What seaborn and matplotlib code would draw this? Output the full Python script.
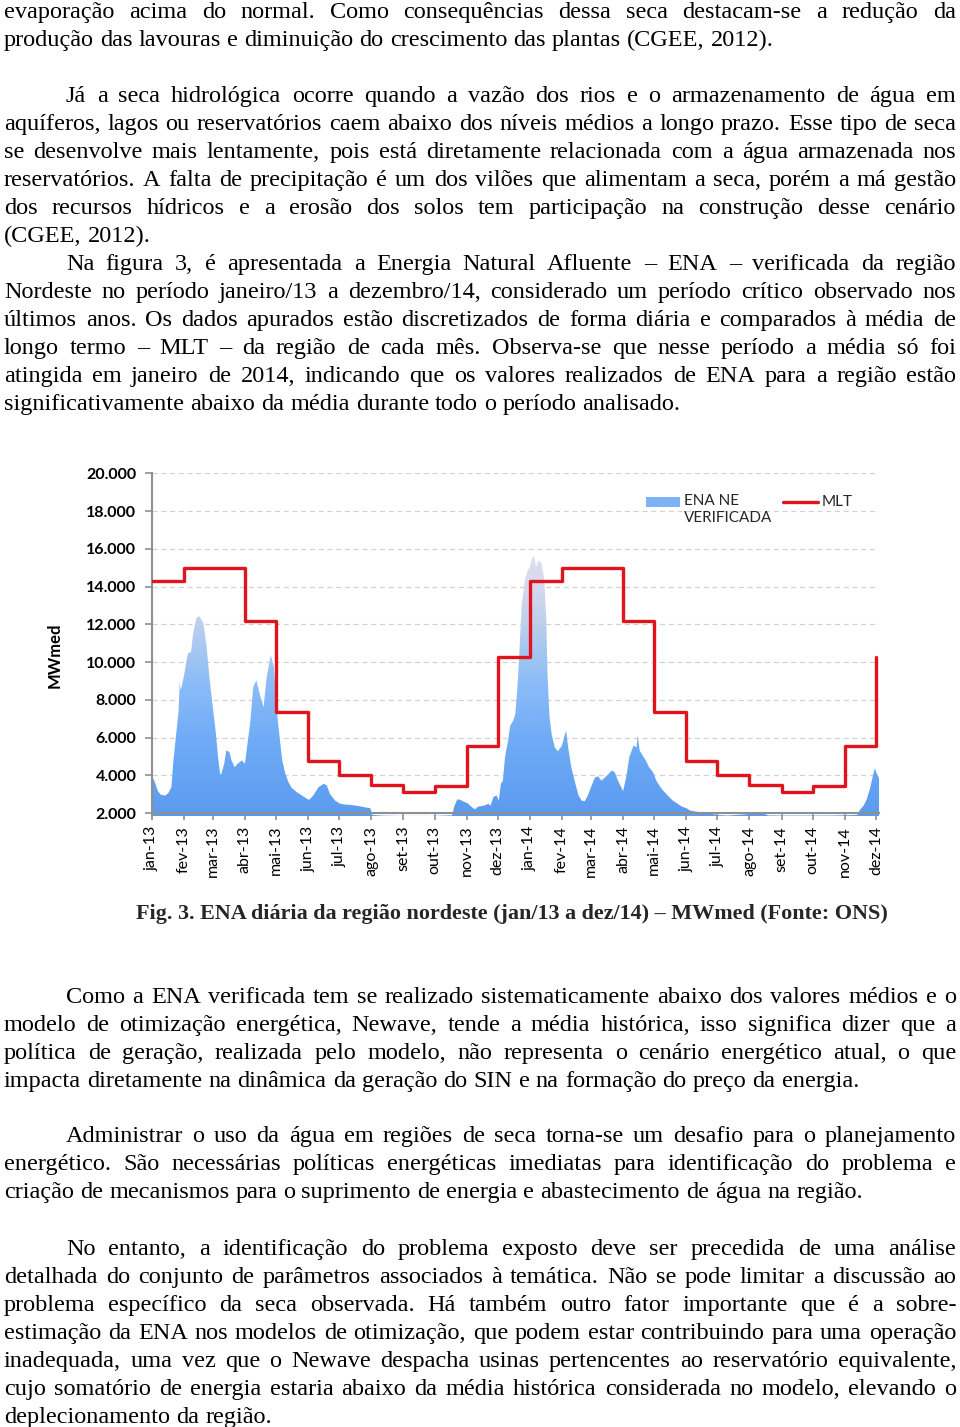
import matplotlib
matplotlib.use("Agg")
import matplotlib.pyplot as plt
from matplotlib.colors import LinearSegmentedColormap, Normalize
from matplotlib.patches import Rectangle
import matplotlib.dates as mdates
import numpy as np
import pandas as pd
import seaborn as sns

# ====== dados do gráfico ======
mlt_dates = pd.date_range("2013-01-01", "2014-12-01", freq="MS")
month_labels = ["jan-13", "fev-13", "mar-13", "abr-13", "mai-13", "jun-13",
                "jul-13", "ago-13", "set-13", "out-13", "nov-13", "dez-13",
                "jan-14", "fev-14", "mar-14", "abr-14", "mai-14", "jun-14",
                "jul-14", "ago-14", "set-14", "out-14", "nov-14", "dez-14"]
mlt_mwmed = [14300, 15000, 15000, 12160, 7380, 4780, 4000, 3500, 3100, 3430, 5580, 10250,
             14300, 15000, 15000, 12160, 7380, 4780, 4000, 3500, 3100, 3430, 5580, 10250]

ena_dates = [
    "2013-01-01", "2013-01-04", "2013-01-07", "2013-01-10", "2013-01-14", "2013-01-17",
    "2013-01-20", "2013-01-22", "2013-01-24", "2013-01-27", "2013-01-28", "2013-01-29",
    "2013-02-01", "2013-02-04", "2013-02-05", "2013-02-08", "2013-02-10", "2013-02-13",
    "2013-02-16", "2013-02-20", "2013-02-23", "2013-02-26", "2013-03-01", "2013-03-04",
    "2013-03-06", "2013-03-08", "2013-03-09", "2013-03-12", "2013-03-14", "2013-03-17",
    "2013-03-19", "2013-03-22", "2013-03-25", "2013-03-29", "2013-04-01", "2013-04-03",
    "2013-04-06", "2013-04-09", "2013-04-12", "2013-04-16", "2013-04-19", "2013-04-22",
    "2013-04-26", "2013-04-29", "2013-05-01", "2013-05-03", "2013-05-07", "2013-05-10",
    "2013-05-13", "2013-05-16", "2013-05-21", "2013-05-26", "2013-05-31", "2013-06-02",
    "2013-06-06", "2013-06-11", "2013-06-16", "2013-06-19", "2013-06-22", "2013-06-27",
    "2013-07-02", "2013-07-07", "2013-07-12", "2013-07-19", "2013-07-25", "2013-07-31",
    "2013-08-02", "2013-08-10", "2013-08-27", "2013-09-12", "2013-09-29", "2013-10-18",
    "2013-10-20", "2013-10-23", "2013-10-26", "2013-10-29", "2013-11-02", "2013-11-06",
    "2013-11-09", "2013-11-12", "2013-11-17", "2013-11-22", "2013-11-24", "2013-11-27",
    "2013-11-30", "2013-12-02", "2013-12-04", "2013-12-06", "2013-12-08", "2013-12-11",
    "2013-12-13", "2013-12-16", "2013-12-18", "2013-12-20", "2013-12-22", "2013-12-24",
    "2013-12-27", "2013-12-30", "2014-01-01", "2014-01-03", "2014-01-05", "2014-01-07",
    "2014-01-09", "2014-01-12", "2014-01-13", "2014-01-15", "2014-01-17", "2014-01-18",
    "2014-01-20", "2014-01-22", "2014-01-25", "2014-01-28", "2014-02-01", "2014-02-03",
    "2014-02-05", "2014-02-07", "2014-02-10", "2014-02-14", "2014-02-17", "2014-02-20",
    "2014-02-23", "2014-02-26", "2014-03-01", "2014-03-05", "2014-03-08", "2014-03-11",
    "2014-03-14", "2014-03-18", "2014-03-21", "2014-03-24", "2014-03-27", "2014-03-31",
    "2014-04-01", "2014-04-04", "2014-04-07", "2014-04-11", "2014-04-14", "2014-04-15",
    "2014-04-17", "2014-04-20", "2014-04-23", "2014-04-26", "2014-04-30", "2014-05-03",
    "2014-05-06", "2014-05-09", "2014-05-14", "2014-05-19", "2014-05-24", "2014-05-28",
    "2014-06-01", "2014-06-05", "2014-06-10", "2014-06-15", "2014-06-21", "2014-06-26",
    "2014-07-01", "2014-07-10", "2014-07-19", "2014-07-29", "2014-08-03", "2014-08-09",
    "2014-08-14", "2014-08-19", "2014-08-30", "2014-09-15", "2014-10-01", "2014-10-17",
    "2014-11-13", "2014-11-16", "2014-11-19", "2014-11-22", "2014-11-25", "2014-11-28",
    "2014-11-30", "2014-12-01", "2014-12-04",
]
ena_mwmed = [
    4000, 3650, 3170, 2970, 2940, 3060,
    3380, 4800, 5860, 7450, 8950, 8510,
    9220, 10200, 10460, 10550, 11520, 12320,
    12440, 12050, 10810, 9040, 7630, 6210,
    4970, 4090, 4050, 4620, 5330, 5240,
    4800, 4440, 4620, 4800, 4620, 5500,
    6740, 8690, 9040, 8160, 7630, 9220,
    10370, 9750, 7980, 6740, 4800, 4090,
    3650, 3350, 3120, 2940, 2760, 2710,
    2940, 3380, 3560, 3470, 3030, 2670,
    2500, 2460, 2440, 2390, 2320, 2270,
    1910, 1880, 1860, 1860, 1860, 1890,
    2350, 2740, 2710, 2620, 2530, 2320,
    2210, 2350, 2390, 2500, 2400, 2880,
    2940, 2670, 3550, 3730, 4970, 5850,
    6640, 6910, 7260, 8680, 10620, 12910,
    14320, 14850, 15030, 15470, 15640, 15030,
    15380, 15290, 15030, 14320, 12030, 9380,
    7080, 6200, 5490, 5280, 5580, 6020,
    6380, 5490, 4440, 3550, 2940, 2670,
    2640, 2940, 3380, 3910, 3950, 3730,
    3870, 4080, 4260, 4170, 3730, 3290,
    3170, 3910, 4970, 5580, 5490, 6120,
    5320, 5050, 4790, 4440, 4170, 3730,
    3470, 3240, 2940, 2670, 2490, 2350,
    2270, 2140, 2090, 2050, 2030, 1960,
    1910, 1880, 1910, 1950, 2000, 2070,
    2000, 1890, 1880, 1880, 1880, 1880,
    1910, 2210, 2390, 2710, 3240, 3950,
    4390, 4210, 3860,
]

y_ticks = [2000, 4000, 6000, 8000, 10000, 12000, 14000, 16000, 18000, 20000]
y_tick_labels = ["2.000", "4.000", "6.000", "8.000", "10.000", "12.000",
                 "14.000", "16.000", "18.000", "20.000"]

# ====== texto da página ======
par1 = [
    "evaporação acima do normal. Como consequências dessa seca destacam-se a redução da",
    "produção das lavouras e diminuição do crescimento das plantas (CGEE, 2012).",
]
par2 = [
    "Já a seca hidrológica ocorre quando a vazão dos rios e o armazenamento de água em",
    "aquíferos, lagos ou reservatórios caem abaixo dos níveis médios a longo prazo. Esse tipo de seca",
    "se desenvolve mais lentamente, pois está diretamente relacionada com a água armazenada nos",
    "reservatórios. A falta de precipitação é um dos vilões que alimentam a seca, porém a má gestão",
    "dos recursos hídricos e a erosão dos solos tem participação na construção desse cenário",
    "(CGEE, 2012).",
]
par3 = [
    "Na figura 3, é apresentada a Energia Natural Afluente – ENA – verificada da região",
    "Nordeste no período janeiro/13 a dezembro/14, considerado um período crítico observado nos",
    "últimos anos. Os dados apurados estão discretizados de forma diária e comparados à média de",
    "longo termo – MLT – da região de cada mês. Observa-se que nesse período a média só foi",
    "atingida em janeiro de 2014, indicando que os valores realizados de ENA para a região estão",
    "significativamente abaixo da média durante todo o período analisado.",
]
caption = "Fig. 3. ENA diária da região nordeste (jan/13 a dez/14) – MWmed (Fonte: ONS)"
par4 = [
    "Como a ENA verificada tem se realizado sistematicamente abaixo dos valores médios e o",
    "modelo de otimização energética, Newave, tende a média histórica, isso significa dizer que a",
    "política de geração, realizada pelo modelo, não representa o cenário energético atual, o que",
    "impacta diretamente na dinâmica da geração do SIN e na formação do preço da energia.",
]
par5 = [
    "Administrar o uso da água em regiões de seca torna-se um desafio para o planejamento",
    "energético. São necessárias políticas energéticas imediatas para identificação do problema e",
    "criação de mecanismos para o suprimento de energia e abastecimento de água na região.",
]
par6 = [
    "No entanto, a identificação do problema exposto deve ser precedida de uma análise",
    "detalhada do conjunto de parâmetros associados à temática. Não se pode limitar a discussão ao",
    "problema específico da seca observada. Há também outro fator importante que é a sobre-",
    "estimação da ENA nos modelos de otimização, que podem estar contribuindo para uma operação",
    "inadequada, uma vez que o Newave despacha usinas pertencentes ao reservatório equivalente,",
    "cujo somatório de energia estaria abaixo da média histórica considerada no modelo, elevando o",
    "deplecionamento da região.",
]

# ====== estilo ======
sns.set_theme(style="ticks")
SERIF = ["Liberation Serif", "DejaVu Serif"]
SANS = ["Lato", "DejaVu Sans"]
plt.rcParams["font.family"] = SANS  # textos do gráfico; o corpo usa SERIF explícito

W, H = 960, 1427
fig = plt.figure(figsize=(9.6, 14.27), dpi=100)
fig.patch.set_facecolor("white")
renderer = fig.canvas.get_renderer()


def text_width(s, size, weight="normal"):
    t = fig.text(0, 0, s, fontsize=size, fontweight=weight, family=SERIF)
    w = t.get_window_extent(renderer).width
    t.remove()
    return w


# tamanho do corpo ajustado pela largura de uma linha não justificada
body_size = 20 * 768 / text_width(par1[-1], 20)
cap_size = 20 * 751 / text_width(caption, 20, "bold")
space_w = text_width("a a", body_size) - text_width("aa", body_size)

LEFT_X, RIGHT_X, INDENT_X, STEP = 4, 956, 66, 28


def draw_line(line, x0, y, justify):
    words = line.split()
    widths = [text_width(w, body_size) for w in words]
    gap = space_w
    if justify and len(words) > 1:
        gap = (RIGHT_X - x0 - sum(widths)) / (len(words) - 1)
    x = x0
    for w, wd in zip(words, widths):
        fig.text(x / W, 1 - y / H, w, fontsize=body_size, family=SERIF,
                 ha="left", va="baseline", color="black")
        x += wd + gap


def draw_paragraph(lines, baseline, indent=True):
    for i, line in enumerate(lines):
        x0 = INDENT_X if (indent and i == 0) else LEFT_X
        draw_line(line, x0, baseline + i * STEP, i < len(lines) - 1)


draw_paragraph(par1, 18, indent=False)
draw_paragraph(par2, 102)
draw_paragraph(par3, 270)
fig.text(511.5 / W, 1 - 919 / H, caption, fontsize=cap_size, fontweight="bold",
         family=SERIF, ha="center", va="baseline")
draw_paragraph(par4, 1003)
draw_paragraph(par5, 1142)
draw_paragraph(par6, 1255)

# ====== gráfico ======
Y_MIN, Y_MAX = 1850, 20000
ax_left, ax_right, ax_top, ax_bottom = 151.7, 879, 473.3, 816.1
ax = fig.add_axes([ax_left / W, 1 - ax_bottom / H,
                   (ax_right - ax_left) / W, (ax_bottom - ax_top) / H])

ena = pd.DataFrame({"data": pd.to_datetime(ena_dates), "mwmed": ena_mwmed})
mlt = pd.DataFrame({"data": mlt_dates, "mwmed": mlt_mwmed})

area = ax.fill_between(ena["data"], ena["mwmed"], Y_MIN, facecolor="none", lw=0)

# degradê vertical da área (azul embaixo, lilás claro no topo)
def pos(v):
    return (v - Y_MIN) / (Y_MAX - Y_MIN)

cmap = LinearSegmentedColormap.from_list("ena", [
    (0.0, "#5b9bef"), (pos(6000), "#70acf7"), (pos(9000), "#8dbdf7"),
    (pos(12000), "#bccfec"), (pos(14000), "#d6d9ed"), (1.0, "#f1ecf4")])
x0 = mdates.date2num(pd.Timestamp("2013-01-01"))
x1 = mdates.date2num(pd.Timestamp("2014-12-05"))
grad = np.linspace(Y_MIN, Y_MAX, 400).reshape(-1, 1)
im = ax.imshow(grad, extent=[x0, x1, Y_MIN, Y_MAX], origin="lower", aspect="auto",
               cmap=cmap, norm=Normalize(Y_MIN, Y_MAX), zorder=1, interpolation="bilinear")
im.set_clip_path(area.get_paths()[0], transform=ax.transData)

sns.lineplot(data=mlt, x="data", y="mwmed", ax=ax, color="#e0141c", lw=2.4,
             drawstyle="steps-post", zorder=3)

ax.set_xlim(pd.Timestamp("2013-01-01"), pd.Timestamp("2014-12-04"))
ax.set_ylim(Y_MIN, Y_MAX)

ax.set_xticks(mlt_dates)
ax.set_xticklabels(month_labels, fontfamily=SANS)
ax.set_yticks(y_ticks)
ax.set_yticklabels(y_tick_labels, fontfamily=SANS, fontweight="bold")
ax.tick_params(axis="x", direction="out", length=5, width=1.2, color="#8f8f8f",
               pad=4, labelrotation=90, labelsize=11.5, labelcolor="black")
ax.tick_params(axis="y", direction="out", length=5, width=1.2, color="#8f8f8f",
               pad=6, labelsize=11.5, labelcolor="black")

ax.set_axisbelow(True)
ax.grid(axis="y", linestyle=(0, (4, 3)), color="#d2d2d2", lw=0.9)
ax.grid(axis="x", visible=False)

for s in ["top", "right"]:
    ax.spines[s].set_visible(False)
ax.spines["bottom"].set_position(("data", 2000))
for s in ["left", "bottom"]:
    ax.spines[s].set_color("#8f8f8f")
    ax.spines[s].set_linewidth(1.5)

ax.set_xlabel("")
ax.set_ylabel("MWmed", fontsize=12, fontweight="bold", family=SANS, color="black")
ax.yaxis.set_label_coords(-0.122, 0.47)

# legenda
def fx(px):
    return (px - ax_left) / (ax_right - ax_left)

def fy(py):
    return (ax_bottom - py) / (ax_bottom - ax_top)

ax.add_patch(Rectangle((fx(646), fy(507)), fx(680) - fx(646), fy(497) - fy(507),
                       transform=ax.transAxes, facecolor="#7db3f6", edgecolor="none",
                       clip_on=False, zorder=4))
ax.text(fx(684), fy(494), "ENA NE\nVERIFICADA", transform=ax.transAxes, fontsize=11,
        family=SANS, ha="left", va="top", linespacing=1.25, zorder=4)
ax.plot([fx(783), fx(818)], [fy(502), fy(502)], transform=ax.transAxes,
        color="#e0141c", lw=2.4, clip_on=False, zorder=4)
ax.text(fx(822), fy(502), "MLT", transform=ax.transAxes, fontsize=11,
        family=SANS, ha="left", va="center", zorder=4)

fig.savefig("out.png", dpi=100, facecolor="white")
